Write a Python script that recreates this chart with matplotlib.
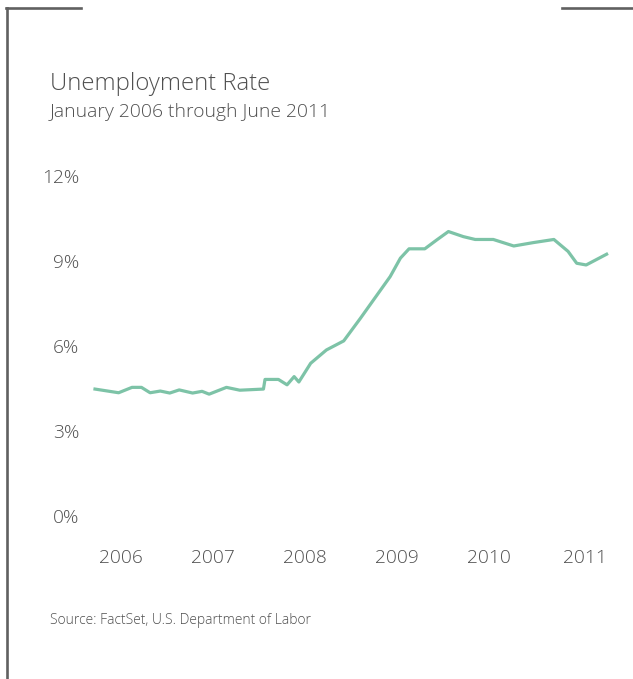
import matplotlib
matplotlib.use('Agg')
import matplotlib.pyplot as plt
from matplotlib.lines import Line2D

plt.rcParams['font.family'] = ['Open Sans', 'DejaVu Sans']
plt.rcParams['font.weight'] = 'light'

# ---- dados ----
# meses desde janeiro de 2006
meses = [0, 3, 4.7, 5.9, 7, 8.3, 9.5, 10.7, 12.4, 13.6, 14.5, 16.7, 18.4,
         21.4, 21.6, 23.3, 24.4, 25.3, 25.9, 27.4, 29.4, 31.6, 33.7, 37.5,
         38.8, 39.9, 41.9, 43.4, 44.9, 46.8, 48.3, 50.6, 53.2, 55.7, 58.3,
         60.1, 61.2, 62.4, 65.0]
taxa = [4.48, 4.35, 4.54, 4.54, 4.35, 4.41, 4.34, 4.45, 4.34, 4.40, 4.30,
        4.54, 4.44, 4.48, 4.82, 4.82, 4.63, 4.92, 4.73, 5.39, 5.86, 6.18,
        6.97, 8.45, 9.10, 9.43, 9.43, 9.74, 10.04, 9.86, 9.76, 9.76, 9.53,
        9.65, 9.76, 9.34, 8.92, 8.86, 9.24]

anos = ['2006', '2007', '2008', '2009', '2010', '2011']
pos_anos = [3.3, 15.0, 26.7, 38.4, 50.0, 62.2]
y_ticks = [0, 3, 6, 9, 12]
y_labels = ['0%', '3%', '6%', '9%', '12%']

W, H = 633, 679
cinza = '#505050'
verde = '#7dc3a7'

fig = plt.figure(figsize=(W / 100, H / 100), dpi=100, facecolor='white')

# area do grafico em pixels
left, right, top, bottom = 85, 620, 176, 516
ax = fig.add_axes([left / W, 1 - bottom / H, (right - left) / W, (bottom - top) / H])
ax.plot(meses, taxa, color=verde, linewidth=2.3, solid_joinstyle='round', clip_on=False)
ax.set_xlim(-1.27, 66.7)
ax.set_ylim(0, 12)

for s in ax.spines.values():
    s.set_visible(False)
ax.set_yticks(y_ticks)
ax.set_yticklabels(y_labels)
ax.set_xticks(pos_anos)
ax.set_xticklabels(anos)
ax.tick_params(axis='both', length=0, colors=cinza, labelsize=13.8)
ax.tick_params(axis='y', pad=4)
ax.tick_params(axis='x', pad=24)

# textos
fig.text(50 / W, 1 - 84 / H, 'Unemployment Rate', fontsize=17.2, color=cinza, va='center', ha='left')
fig.text(50 / W, 1 - 112 / H, 'January 2006 through June 2011', fontsize=13.9, color=cinza, va='center', ha='left')
fig.text(50 / W, 1 - 620 / H, 'Source: FactSet, U.S. Department of Labor', fontsize=10, color=cinza, va='center', ha='left')

# moldura
moldura = '#606060'
fig.add_artist(Line2D([7 / W, 7 / W], [1 - 8 / H, 0], color=moldura, linewidth=1.9, transform=fig.transFigure))
fig.add_artist(Line2D([6 / W, 81 / W], [1 - 8 / H, 1 - 8 / H], color=moldura, linewidth=1.9, transform=fig.transFigure))
fig.add_artist(Line2D([562 / W, 1], [1 - 8 / H, 1 - 8 / H], color=moldura, linewidth=1.9, transform=fig.transFigure))

fig.savefig('out.png', dpi=100, facecolor='white')
